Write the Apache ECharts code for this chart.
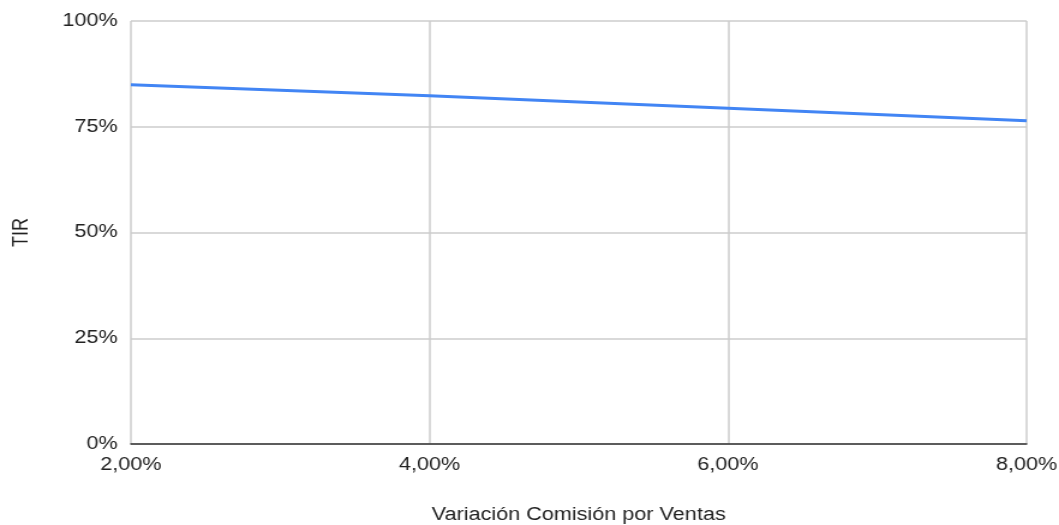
<!DOCTYPE html>
<html>
<head>
<meta charset="utf-8">
<script src="https://cdn.jsdelivr.net/npm/echarts@6/dist/echarts.min.js"></script>
<style>
html,body{margin:0;padding:0;background:#fff;overflow:hidden;}
/* the reference looks stretched sideways, so draw narrower and widen */
#main{width:882px;height:525px;transform:scaleX(1.2007);transform-origin:0 0;}
</style>
</head>
<body>
<div id="main"></div>
<script>
// comision por ventas (x) y TIR (y)
var comision = [0.02, 0.04, 0.06, 0.08];
var tir = [0.849, 0.823, 0.794, 0.764];
var xName = 'Variación Comisión por Ventas';
var yName = 'TIR';

var myChart = echarts.init(document.getElementById('main'));
var pts = [];
for (var i = 0; i < comision.length; i++) {
	pts.push([comision[i], tir[i]]);
}
var fontFam = '"Liberation Sans", Arial, sans-serif';
var option = {
	animation: false,
	grid: { left: 109, right: 27, top: 21, bottom: 81, containLabel: false, outerBoundsMode: 'none' },
	xAxis: {
		type: 'value',
		min: 0.02, max: 0.08, interval: 0.02,
		name: xName,
		nameLocation: 'middle',
		nameGap: 62,
		nameTextStyle: { color: '#222', fontSize: 18, fontFamily: fontFam },
		axisLine: { show: true, lineStyle: { color: '#333', width: 1.5 } },
		axisTick: { show: false },
		axisLabel: {
			color: '#222', fontSize: 18, fontFamily: fontFam, margin: 12,
			formatter: function (v) { return (v * 100).toFixed(2).replace('.', ',') + '%'; }
		},
		splitLine: { show: true, lineStyle: { color: '#ccc', width: 1.5 } }
	},
	yAxis: {
		type: 'value',
		min: 0, max: 1, interval: 0.25,
		name: yName,
		nameLocation: 'middle',
		nameGap: 82,
		nameTextStyle: { color: '#222', fontSize: 18, fontFamily: fontFam },
		axisLine: { show: false },
		axisTick: { show: false },
		axisLabel: {
			color: '#222', fontSize: 18, fontFamily: fontFam, margin: 11,
			formatter: function (v) { return Math.round(v * 100) + '%'; }
		},
		splitLine: { show: true, lineStyle: { color: '#ccc', width: 1.5 } }
	},
	series: [{
		type: 'line',
		data: pts,
		showSymbol: false,
		lineStyle: { color: '#4285F4', width: 3 },
		itemStyle: { color: '#4285F4' }
	}]
};
myChart.setOption(option, true);
</script>
</body>
</html>
